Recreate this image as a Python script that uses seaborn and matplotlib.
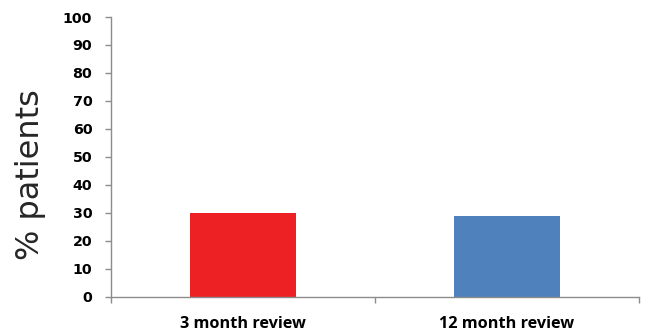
import matplotlib
matplotlib.use("Agg")
import matplotlib.pyplot as plt
import seaborn as sns
import pandas as pd
from matplotlib.ticker import FixedLocator

# Share of patients at each review point
reviews = ["3 month review", "12 month review"]
pct_patients = [30, 29]
bar_colors = ["#ED2024", "#4F81BD"]
y_ticks = [0, 10, 20, 30, 40, 50, 60, 70, 80, 90, 100]

df = pd.DataFrame({"review": reviews, "pct": pct_patients})

sns.set_theme(style="white")
plt.rcParams["font.family"] = ["Open Sans", "DejaVu Sans"]

fig = plt.figure(figsize=(6.48, 3.34), dpi=100)
ax = fig.add_axes([0.1713, 0.1108, 0.8148, 0.8383])

sns.barplot(data=df, x="review", y="pct", hue="review", palette=bar_colors,
            width=0.4, legend=False, ax=ax, saturation=1, edgecolor="none")

axis_grey = "#8C8C8C"
ax.set_xlim(-0.5, 1.5)
ax.set_ylim(0, 100)
ax.set_yticks(y_ticks)
ax.set_yticklabels([str(v) for v in y_ticks], fontweight="bold", fontsize=10.3,
                   family="DejaVu Sans")
ax.set_xticks(range(len(reviews)))
ax.set_xticklabels(reviews, fontweight="bold", fontsize=11.7)

# category boundary ticks on the x axis
ax.xaxis.set_minor_locator(FixedLocator([-0.5, 0.5, 1.5]))
ax.tick_params(axis="x", which="minor", bottom=True, length=4, width=1, color=axis_grey)
ax.tick_params(axis="x", which="major", bottom=True, length=0, pad=14, colors="black")
ax.tick_params(axis="y", left=True, length=4, width=1, color=axis_grey, pad=9.5,
               labelcolor="black")

for side in ["top", "right"]:
    ax.spines[side].set_visible(False)
for side in ["left", "bottom"]:
    ax.spines[side].set_color(axis_grey)
    ax.spines[side].set_linewidth(1)

ax.set_xlabel("")
ax.set_ylabel("% patients", fontsize=23, family="DejaVu Sans")
ax.yaxis.set_label_coords(-0.124, 0.436)

fig.savefig("out.png", dpi=100)
